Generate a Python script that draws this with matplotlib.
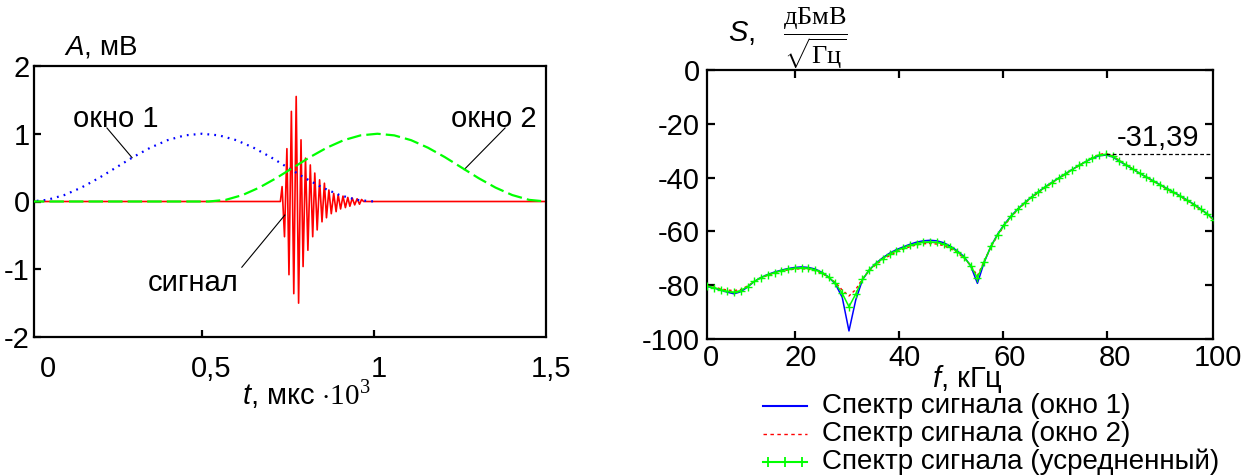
import matplotlib
matplotlib.use("Agg")
import matplotlib.pyplot as plt
from matplotlib.lines import Line2D

plt.rcParams['font.family'] = ['Liberation Sans', 'DejaVu Sans']
plt.rcParams['mathtext.fontset'] = 'custom'
plt.rcParams['mathtext.it'] = 'Liberation Sans:italic'
plt.rcParams['mathtext.rm'] = 'Liberation Serif'
plt.rcParams['axes.linewidth'] = 1.6

# ---------------- time domain: signal and two analysis windows ----------------
t_signal = [0.0, 0.728, 0.733, 0.740, 0.747, 0.753, 0.760, 0.767, 0.774, 0.781,
            0.788, 0.794, 0.801, 0.808, 0.815, 0.822, 0.828, 0.835, 0.842, 0.849,
            0.856, 0.862, 0.869, 0.876, 0.883, 0.890, 0.896, 0.903, 0.910, 0.917,
            0.924, 0.930, 0.937, 0.944, 0.951, 0.958, 0.964, 0.970, 1.5]
a_signal = [0.0, 0.0, 0.22, -0.52, 0.78, -1.08, 1.33, -1.36, 1.55, -1.50,
            0.91, -0.96, 0.64, -0.72, 0.54, -0.52, 0.42, -0.42, 0.32, -0.30,
            0.27, -0.24, 0.17, -0.18, 0.12, -0.15, 0.10, -0.11, 0.08, -0.09,
            0.06, -0.07, 0.05, -0.05, 0.04, -0.04, 0.03, 0.0, 0.0]

t_win1 = [0.00, 0.05, 0.10, 0.15, 0.20, 0.25, 0.30, 0.35, 0.40, 0.45, 0.50,
          0.55, 0.60, 0.65, 0.70, 0.75, 0.80, 0.85, 0.90, 0.95, 1.00]
win1 = [0.0, 0.024, 0.095, 0.206, 0.345, 0.5, 0.655, 0.794, 0.905, 0.976, 1.0,
        0.976, 0.905, 0.794, 0.655, 0.5, 0.345, 0.206, 0.095, 0.024, 0.0]

t_win2 = [0.0, 0.520, 0.569, 0.618, 0.667, 0.716, 0.765, 0.814, 0.863, 0.912,
          0.961, 1.010, 1.059, 1.108, 1.157, 1.206, 1.255, 1.304, 1.353, 1.402,
          1.451, 1.500]
win2 = [0.0, 0.0, 0.024, 0.095, 0.206, 0.345, 0.5, 0.655, 0.794, 0.905, 0.976,
        1.0, 0.976, 0.905, 0.794, 0.655, 0.5, 0.345, 0.206, 0.095, 0.024, 0.0]

# ---------------- spectra ----------------
freq = [3.1, 4.4, 5.7, 7.0, 8.3, 9.6, 10.9, 12.2, 13.5, 14.8, 16.1, 17.4, 18.7,
        20.0, 21.3, 22.6, 23.9, 25.2, 26.5, 27.8, 29.1, 30.4, 31.7, 33.0, 34.3,
        35.6, 36.9, 38.2, 39.5, 40.8, 42.1, 43.4, 44.7, 46.0, 47.3, 48.6, 49.9,
        51.2, 52.5, 53.8, 55.1, 56.4, 57.7, 59.0, 60.3, 61.6, 62.9, 64.2, 65.5,
        66.8, 68.1, 69.4, 70.7, 72.0, 73.3, 74.6, 75.9, 77.2, 78.5, 79.8, 81.1,
        82.4, 83.7, 85.0, 86.3, 87.6, 88.9, 90.2, 91.5, 92.8, 94.1, 95.4, 96.7,
        98.0, 99.3, 100.6]
spec_win1 = [-80.5, -81.0, -81.8, -82.6, -83.2, -82.4, -80.7, -78.6, -77.1, -76.0,
             -75.1, -74.4, -73.8, -73.4, -73.2, -73.4, -74.0, -75.2, -77.0, -79.6,
             -84.5, -97.0, -85.5, -78.0, -74.3, -71.8, -69.8, -68.1, -66.8, -65.8,
             -64.8, -64.0, -63.5, -63.3, -63.5, -64.2, -65.5, -67.2, -69.3, -72.8,
             -79.3, -71.5, -65.5, -61.0, -57.3, -54.2, -51.6, -49.3, -47.2, -45.3,
             -43.5, -41.8, -40.2, -38.6, -37.0, -35.5, -34.1, -32.8, -31.9, -31.6,
             -32.3, -33.9, -35.4, -36.9, -38.4, -39.8, -41.2, -42.6, -44.0, -45.4,
             -46.8, -48.3, -49.9, -51.6, -53.5, -55.6]
spec_win2 = [-80.3, -80.7, -81.3, -81.8, -82.0, -81.6, -80.3, -78.6, -77.3, -76.3,
             -75.5, -74.8, -74.3, -74.0, -73.9, -74.1, -74.6, -75.6, -77.1, -79.0,
             -81.8, -84.0, -81.6, -77.6, -74.6, -72.3, -70.5, -69.0, -67.7, -66.6,
             -65.7, -65.0, -64.6, -64.5, -64.7, -65.3, -66.4, -67.9, -69.9, -72.6,
             -76.5, -71.0, -65.8, -61.5, -57.8, -54.6, -51.9, -49.6, -47.5, -45.6,
             -43.8, -42.1, -40.4, -38.8, -37.2, -35.6, -34.1, -32.6, -31.4, -31.0,
             -31.9, -33.6, -35.2, -36.8, -38.4, -39.9, -41.4, -42.8, -44.3, -45.7,
             -47.1, -48.6, -50.2, -51.9, -53.8, -55.9]
spec_avg = [-80.4, -80.9, -81.6, -82.3, -82.6, -82.0, -80.5, -78.6, -77.2, -76.1,
            -75.3, -74.6, -74.0, -73.7, -73.5, -73.7, -74.3, -75.4, -77.0, -79.3,
            -83.0, -88.0, -83.3, -77.8, -74.4, -72.0, -70.1, -68.5, -67.2, -66.2,
            -65.2, -64.5, -64.0, -63.9, -64.1, -64.7, -65.9, -67.5, -69.6, -72.7,
            -77.3, -71.2, -65.6, -61.2, -57.5, -54.4, -51.7, -49.4, -47.3, -45.4,
            -43.6, -41.9, -40.3, -38.7, -37.1, -35.5, -34.1, -32.7, -31.6, -31.39,
            -32.1, -33.7, -35.3, -36.8, -38.4, -39.8, -41.3, -42.7, -44.1, -45.5,
            -46.9, -48.4, -50.0, -51.7, -53.6, -55.7]

legend_labels = ["Спектр сигнала (окно 1)",
                 "Спектр сигнала (окно 2)",
                 "Спектр сигнала (усредненный)"]

BLUE, RED, GREEN = '#0000ff', '#ff0000', '#00ff00'
FS = 21

W, H = 1259, 475
fig = plt.figure(figsize=(W / 100, H / 100), dpi=100)


def fpos(x, y):
    return x / W, 1 - y / H


def tick_texts(ax, positions, labels, dxs, dy):
    for p, lab, dx in zip(positions, labels, dxs):
        ax.annotate(lab, xy=(p, 0), xycoords=ax.get_xaxis_transform(),
                    xytext=(dx, -dy), textcoords='offset pixels',
                    ha='center', va='center', fontsize=FS, annotation_clip=False)


# ================= left panel =================
axL = fig.add_axes([34 / W, 1 - 337 / H, 512 / W, 271 / H])
axL.plot(t_signal, a_signal, color=RED, lw=1.2, zorder=2)
axL.plot(t_win1, win1, color=BLUE, lw=1.6, ls=(0, (0.8, 2.3)), zorder=3)
axL.plot(t_win2, win2, color=GREEN, lw=1.6, ls=(0, (6.5, 2.3)), zorder=4)
axL.set_xlim(0.012, 1.5)
axL.set_ylim(-2, 2)
axL.set_xticks([0.5, 1.0])
axL.set_xticklabels([])
axL.set_yticks([-2, -1, 0, 1, 2])
axL.set_yticklabels(['-2', '-1', '0', '1', '2'], fontsize=FS)
axL.tick_params(direction='in', length=5, width=1.6, pad=3)
tick_texts(axL, [0.012, 0.5, 1.0, 1.5], ['0', '0,5', '1', '1,5'], [14, 9, 5, 5], 32)

# window / signal callouts
axL.text(0.25, 1.22, 'окно 1', fontsize=FS, ha='center', va='center')
axL.plot([0.224, 0.297], [1.085, 0.647], color='k', lw=0.8)
axL.text(1.349, 1.22, 'окно 2', fontsize=FS, ha='center', va='center')
axL.plot([1.381, 1.262], [1.085, 0.47], color='k', lw=0.8)
axL.text(0.474, -1.20, 'сигнал', fontsize=FS, ha='center', va='center')
axL.plot([0.616, 0.741], [-0.97, -0.2], color='k', lw=0.8)

fig.text(*fpos(64, 48), '$A$, мВ', fontsize=20, ha='left', va='center')
fig.text(*fpos(242, 404), r'$t$, мкс $\cdot\mathrm{10}^{3}$', fontsize=FS,
         ha='left', va='baseline')

# ================= right panel =================
axR = fig.add_axes([707 / W, 1 - 339 / H, 506 / W, 269 / H])
axR.plot(freq, spec_win1, color=BLUE, lw=1.1, zorder=3)
axR.plot(freq, spec_win2, color=RED, lw=1.0, ls=(0, (2, 2)), zorder=4)
axR.plot(freq, spec_avg, color=GREEN, lw=1.1, marker='+', ms=6, mew=1.0, zorder=5)
axR.set_xlim(3.1, 100.4)
axR.set_ylim(-100, 0)
axR.set_xticks([20, 40, 60, 80])
axR.set_xticklabels([])
axR.set_yticks([-100, -80, -60, -40, -20, 0])
axR.set_yticklabels(['-100', '-80', '-60', '-40', '-20', '0'], fontsize=FS)
axR.tick_params(direction='in', length=6, width=1.6, pad=5, top=True, right=True)
tick_texts(axR, [3.1, 20, 40, 60, 80, 100.4], ['0', '20', '40', '60', '80', '100'],
           [4, 6, 6, 7, 8, 5], 19)

# peak marker
i_pk = spec_avg.index(max(spec_avg))
f_pk, s_pk = freq[i_pk], spec_avg[i_pk]
axR.plot([f_pk, 100.4], [s_pk, s_pk], color='k', lw=0.9, ls=(0, (3, 2)), zorder=6)
axR.annotate(f'{s_pk:.2f}'.replace('.', ','), xy=(89.9, s_pk), xytext=(0, 8),
             textcoords='offset pixels', ha='center', va='baseline', fontsize=FS)

fig.text(*fpos(728, 33), '$S$,', fontsize=FS, ha='left', va='center')
fig.text(*fpos(815, 38), r'$\dfrac{\mathrm{дБмВ}}{\sqrt{\mathrm{Гц}}}$', fontsize=19,
         ha='center', va='center')
fig.text(*fpos(932, 379), '$f$, кГц', fontsize=FS, ha='left', va='center')

# legend rows
LFS = 20
rows = [(406, dict(color=BLUE, lw=1.5)),
        (434, dict(color=RED, lw=1.0, ls=(0, (2.5, 2.5)))),
        (462, dict(color=GREEN, lw=1.5, marker='+', ms=7, mew=1.3))]
for (y, style), label in zip(rows, legend_labels):
    x0, yy = fpos(763, y)
    x1, _ = fpos(807, y)
    if 'marker' in style:
        fig.add_artist(Line2D([x0, x1], [yy, yy], color=style['color'], lw=style['lw']))
        xs = [fpos(768, y)[0], fpos(785, y)[0], fpos(802, y)[0]]
        fig.add_artist(Line2D(xs, [yy] * 3, ls='none', marker='+', color=style['color'],
                              ms=style['ms'], mew=style['mew']))
    else:
        fig.add_artist(Line2D([x0, x1], [yy, yy], **style))
    fig.text(*fpos(822, y), label, fontsize=LFS, ha='left', va='center')

fig.savefig('out.png', dpi=100)
